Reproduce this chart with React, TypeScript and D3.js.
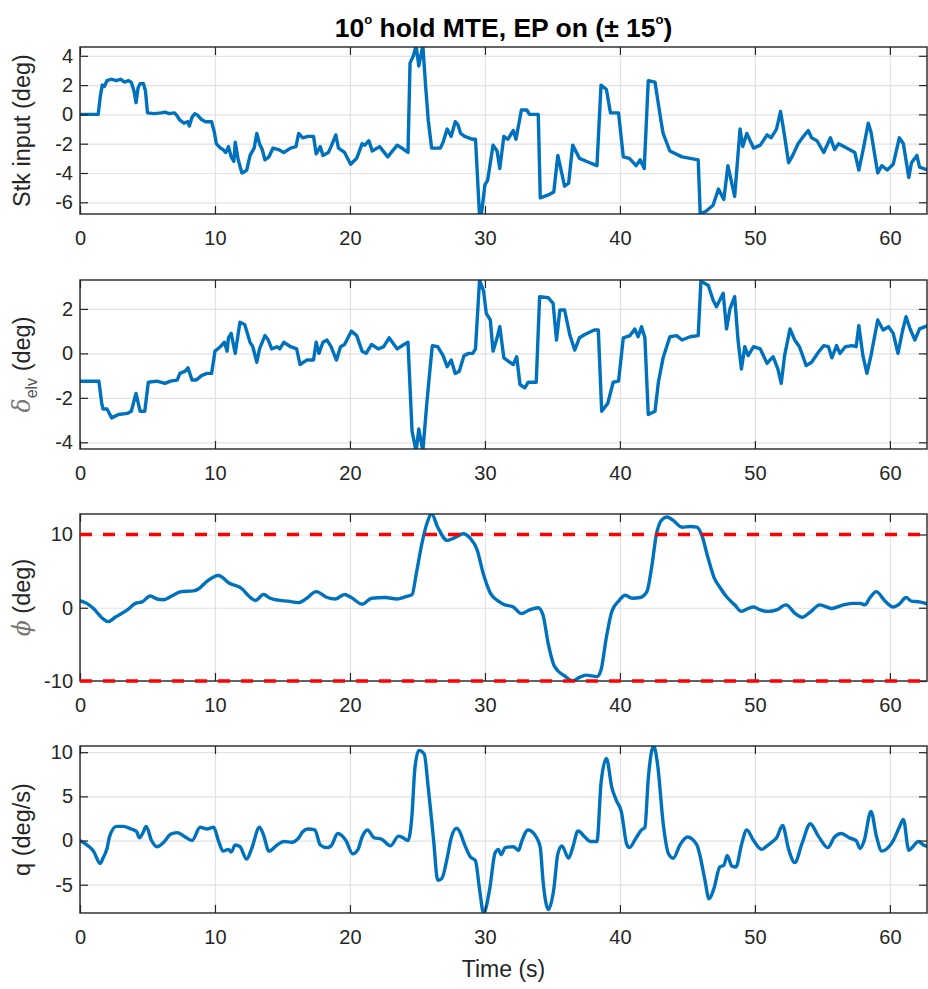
import React, { useEffect, useRef } from 'react'
import * as d3 from 'd3'

type Pt = [number, number]

// tick values
const xTicks = [0, 10, 20, 30, 40, 50, 60]
const stkTicks = [-6, -4, -2, 0, 2, 4]
const elvTicks = [-4, -2, 0, 2]
const phiTicks = [-10, 0, 10]
const qTicks = [-5, 0, 5, 10]
const phiLimits = [10, -10]

// stick input (deg) vs time (s)
const stkInput: Pt[] = [
  [0, 0], [1.35, 0], [1.5, 1.2], [1.65, 2.0], [1.8, 1.9], [2.0, 2.3], [2.3, 2.4], [2.7, 2.3], [3.0, 2.4], [3.3, 2.2],
  [3.6, 2.3], [3.8, 2.2], [4.0, 1.6], [4.15, 0.8], [4.3, 1.8], [4.45, 2.1], [4.7, 2.1], [4.85, 1.6], [5.0, 0.1], [5.5, 0.05],
  [6.0, 0.1], [6.3, 0.15], [6.6, 0.05], [7.0, 0.1], [7.2, -0.1], [7.4, -0.4], [7.7, -0.6], [8.0, -0.5], [8.1, -0.8], [8.3, -0.2],
  [8.5, 0.05], [8.7, -0.05], [9.0, -0.35], [9.3, -0.5], [9.75, -0.5], [9.95, -1.2], [10.1, -2.0], [10.4, -2.3], [10.6, -2.4], [10.8, -2.6],
  [11.0, -2.2], [11.2, -2.9], [11.4, -3.2], [11.5, -1.9], [11.7, -3.0], [11.9, -3.7], [12.0, -4.0], [12.2, -3.9], [12.35, -3.8], [12.6, -2.8],
  [12.9, -2.3], [13.1, -1.3], [13.3, -2.0], [13.5, -2.4], [13.7, -3.1], [14.0, -2.9], [14.3, -2.3], [14.7, -2.4], [15.1, -2.6], [15.6, -2.3],
  [16.0, -2.2], [16.2, -1.3], [16.5, -1.6], [16.9, -1.5], [17.3, -1.5], [17.5, -2.7], [17.8, -2.2], [18.0, -2.8], [18.4, -2.6], [18.6, -2.2],
  [18.95, -1.4], [19.15, -2.3], [19.6, -2.6], [20.05, -3.4], [20.5, -3.0], [20.9, -2.0], [21.1, -2.1], [21.4, -1.8], [21.65, -2.5], [22.2, -2.2],
  [22.8, -2.9], [23.5, -2.1], [24.0, -2.4], [24.3, -2.6], [24.45, 3.5], [24.7, 4.0], [24.9, 4.7], [25.1, 3.3], [25.4, 4.7], [25.6, 2.0],
  [25.8, -0.4], [26.05, -2.3], [26.7, -2.3], [26.9, -1.9], [27.2, -1.0], [27.5, -1.5], [27.8, -0.5], [28.0, -0.7], [28.2, -1.3], [28.5, -1.5],
  [29.1, -1.7], [29.3, -1.7], [29.6, -6.9], [29.75, -6.7], [30.0, -4.8], [30.2, -4.5], [30.6, -2.1], [30.9, -2.5], [31.1, -3.7], [31.4, -1.5],
  [31.7, -1.7], [32.1, -1.1], [32.3, -1.7], [32.7, 0.3], [33.1, 0.3], [33.3, 0.0], [33.95, 0.0], [34.1, -5.7], [34.7, -5.5], [35.1, -5.3],
  [35.4, -2.8], [35.9, -4.9], [36.2, -4.7], [36.5, -2.1], [37.0, -3.0], [37.5, -3.2], [38.3, -3.5], [38.6, 2.0], [39.0, 1.7], [39.3, 0.1],
  [39.9, 0.1], [40.25, -2.9], [40.7, -3.0], [41.2, -3.5], [41.5, -3.1], [41.8, -3.7], [42.1, 2.3], [42.6, 2.2], [43.0, -0.2], [43.2, -1.3],
  [43.7, -2.5], [44.6, -2.9], [45.2, -3.0], [45.8, -3.1], [45.95, -6.8], [46.4, -6.6], [46.9, -6.2], [47.3, -5.1], [47.7, -5.8], [48.0, -3.5],
  [48.5, -5.6], [48.9, -1.0], [49.1, -2.2], [49.4, -1.3], [49.9, -2.3], [50.4, -2.1], [50.9, -1.4], [51.2, -1.6], [51.6, -1.0], [51.9, 0.2],
  [52.1, -0.9], [52.5, -3.3], [52.8, -2.8], [53.2, -2.0], [53.6, -1.5], [53.95, -1.1], [54.2, -1.6], [54.6, -1.8], [55.1, -2.6], [55.6, -1.6],
  [55.9, -2.4], [56.2, -2.0], [56.8, -2.3], [57.4, -2.6], [57.7, -3.8], [58.0, -2.5], [58.4, -0.6], [58.6, -1.2], [59.1, -4.0], [59.4, -3.5],
  [59.8, -3.8], [60.25, -3.4], [60.7, -1.6], [61.0, -2.0], [61.4, -4.3], [61.6, -3.3], [62.0, -2.8], [62.2, -3.6], [62.8, -3.8],
]

// elevator deflection (deg)
const elvDefl: Pt[] = [
  [0, -1.25], [1.4, -1.25], [1.6, -2.2], [1.7, -2.5], [2.0, -2.5], [2.35, -2.9], [2.85, -2.75], [3.5, -2.7], [3.8, -2.6], [4.15, -1.8],
  [4.45, -2.6], [4.8, -2.6], [5.06, -1.3], [5.7, -1.25], [6.3, -1.35], [6.7, -1.25], [7.2, -1.2], [7.4, -0.9], [7.8, -0.8], [8.0, -0.65],
  [8.3, -1.2], [8.6, -1.2], [9.0, -1.0], [9.4, -0.9], [9.75, -0.9], [10.0, 0.1], [10.4, 0.3], [10.7, 0.5], [10.9, 0.1], [11.0, 0.7],
  [11.2, 0.9], [11.5, 0.0], [11.85, 1.4], [12.2, 1.3], [12.6, 0.5], [12.8, 0.3], [13.1, -0.4], [13.3, 0.2], [13.7, 0.8], [13.95, 0.6],
  [14.2, 0.2], [14.6, 0.3], [14.8, 0.2], [15.1, 0.5], [15.6, 0.3], [16.05, 0.2], [16.3, -0.5], [16.8, -0.3], [17.3, -0.3], [17.5, 0.5],
  [17.7, 0.0], [18.0, 0.5], [18.3, 0.6], [18.6, 0.3], [19.0, -0.3], [19.3, 0.3], [19.6, 0.4], [20.1, 1.0], [20.5, 0.8], [20.9, 0.1],
  [21.2, 0.0], [21.6, 0.4], [22.1, 0.2], [22.5, 0.3], [22.9, 0.7], [23.5, 0.2], [24.0, 0.4], [24.3, 0.5], [24.6, -3.5], [24.9, -4.4],
  [25.1, -3.4], [25.4, -4.4], [25.7, -2.2], [25.9, -0.9], [26.1, 0.35], [26.5, 0.3], [26.9, -0.1], [27.2, -0.6], [27.5, -0.3], [27.8, -0.9],
  [28.1, -0.8], [28.45, -0.1], [28.8, 0.0], [29.1, 0.0], [29.3, 0.2], [29.6, 3.3], [29.9, 2.8], [30.1, 1.8], [30.4, 1.5], [30.6, 0.1],
  [30.9, 0.7], [31.1, 1.2], [31.4, -0.2], [31.85, -0.4], [32.1, -0.5], [32.35, -0.15], [32.6, -1.4], [32.95, -1.55], [33.2, -1.3], [33.8, -1.3],
  [34.05, 2.55], [34.7, 2.5], [35.05, 2.25], [35.3, 0.6], [35.55, 1.95], [35.9, 1.95], [36.3, 0.8], [36.65, 0.15], [37.0, 0.7], [37.4, 0.85],
  [38.1, 1.05], [38.4, 1.05], [38.65, -2.6], [39.1, -2.25], [39.5, -1.3], [39.9, -1.25], [40.25, 0.7], [40.75, 0.8], [41.1, 1.1], [41.35, 0.75],
  [41.6, 1.2], [41.85, 0.7], [42.1, -2.75], [42.6, -2.6], [42.85, -1.3], [43.2, -0.2], [43.7, 0.75], [44.2, 0.8], [44.6, 0.6], [45.2, 0.75],
  [45.8, 0.8], [46.0, 3.25], [46.55, 3.05], [46.9, 2.4], [47.15, 2.1], [47.65, 2.7], [47.9, 1.1], [48.15, 2.0], [48.5, 2.55], [48.75, 0.6],
  [49.0, -0.7], [49.25, 0.3], [49.5, -0.1], [49.9, 0.3], [50.4, 0.2], [50.9, -0.45], [51.35, -0.15], [51.7, -0.7], [51.95, -1.35], [52.2, -0.1],
  [52.6, 1.1], [52.95, 0.6], [53.3, 0.3], [53.8, -0.55], [54.2, -0.4], [54.7, 0.05], [55.1, 0.35], [55.45, 0.3], [55.7, -0.2], [56.05, 0.35],
  [56.3, 0.0], [56.7, 0.3], [57.2, 0.35], [57.5, 0.3], [57.7, 1.25], [58.0, -0.1], [58.3, -0.9], [58.6, -0.1], [59.1, 1.5], [59.5, 1.05],
  [59.9, 1.2], [60.25, 0.9], [60.6, 0.0], [60.95, 1.05], [61.2, 1.65], [61.5, 1.1], [61.85, 0.6], [62.2, 1.1], [62.8, 1.25],
]

// bank angle phi (deg)
const phiAngle: Pt[] = [
  [0, 0.96], [0.5, 0.6], [1.0, -0.1], [1.7, -1.5], [2.1, -1.9], [2.6, -1.3], [3.5, -0.3], [4.1, 0.6], [4.6, 0.8], [5.2, 1.6],
  [5.7, 1.2], [6.2, 1.1], [6.8, 1.6], [7.5, 2.2], [8.4, 2.3], [8.8, 2.6], [9.4, 3.6], [10.25, 4.4], [11.1, 3.3], [12.0, 2.6],
  [12.5, 1.6], [13.0, 1.0], [13.6, 1.8], [14.1, 1.3], [14.8, 1.0], [15.4, 0.9], [16.2, 0.7], [16.8, 1.3], [17.5, 2.2], [18.3, 1.4],
  [18.9, 1.2], [19.6, 1.8], [20.1, 1.4], [20.9, 0.5], [21.6, 1.3], [22.6, 1.4], [23.5, 1.2], [24.1, 1.5], [24.6, 1.8], [24.9, 4.5],
  [25.3, 8.5], [25.7, 11.5], [26.05, 12.8], [26.5, 11.0], [27.2, 9.2], [27.8, 9.6], [28.4, 10.1], [28.9, 9.5], [29.4, 8.0], [29.9, 4.5],
  [30.4, 2.0], [31.0, 0.9], [31.4, 0.45], [32.1, 0.1], [32.7, -0.8], [33.3, -0.3], [33.95, 0.0], [34.3, -1.0], [34.7, -5.0], [35.1, -7.8],
  [35.4, -8.6], [35.9, -9.3], [36.5, -10.0], [37.0, -9.5], [37.5, -9.2], [38.3, -9.4], [38.6, -8.5], [39.0, -4.0], [39.4, -0.5], [39.9, 0.9],
  [40.4, 1.7], [40.9, 1.3], [41.5, 1.4], [42.0, 2.2], [42.35, 5.5], [42.7, 10.0], [43.1, 12.0], [43.5, 12.4], [43.9, 12.0], [44.6, 11.0],
  [45.2, 11.1], [45.7, 11.0], [46.05, 10.0], [46.5, 7.0], [47.0, 4.0], [47.4, 2.8], [47.9, 1.5], [48.5, 0.4], [49.0, -0.5], [49.5, -0.1],
  [49.9, 0.1], [50.4, -0.3], [51.0, -0.5], [51.6, -0.3], [52.3, 0.4], [53.0, -0.8], [53.5, -1.3], [54.1, -0.6], [54.8, 0.4], [55.7, -0.1],
  [56.4, 0.3], [57.2, 0.6], [57.8, 0.6], [58.15, 0.4], [58.5, 1.3], [59.0, 2.2], [59.6, 1.0], [60.25, 0.1], [60.7, 0.5], [61.2, 1.4],
  [61.6, 0.9], [62.2, 0.8], [62.8, 0.5],
]

// pitch rate q (deg/s)
const pitchRate: Pt[] = [
  [0, 0], [0.6, -0.6], [1.0, -1.2], [1.5, -2.6], [1.7, -2.0], [2.0, -0.9], [2.2, 0.5], [2.7, 1.6], [3.2, 1.6], [3.8, 1.3],
  [4.2, 1.0], [4.4, 0.3], [4.7, 1.0], [4.9, 1.6], [5.3, 0.0], [5.7, -0.7], [6.2, -0.2], [6.7, 0.7], [7.2, 0.9], [7.7, 0.5],
  [8.3, 0.0], [8.9, 1.5], [9.4, 1.3], [9.9, 1.5], [10.25, 0.0], [10.6, -1.2], [11.0, -1.0], [11.2, -1.3], [11.5, -0.5], [11.85, -0.7],
  [12.35, -2.1], [12.7, -1.0], [13.3, 1.5], [13.6, 0.6], [14.0, -1.2], [14.6, -0.5], [15.1, -0.1], [15.7, -0.2], [16.2, 0.3], [16.5, 1.0],
  [16.9, 1.3], [17.4, 1.2], [17.8, -0.5], [18.3, -0.8], [18.6, -0.6], [19.1, 0.8], [19.7, 0.0], [20.2, -1.5], [20.6, -1.0], [20.9, 0.4],
  [21.3, 1.2], [21.8, 0.3], [22.3, 0.2], [23.0, -0.6], [23.6, 0.5], [23.95, 0.3], [24.3, 0.0], [24.6, 3.0], [24.8, 8.0], [25.1, 10.2],
  [25.5, 9.8], [25.8, 6.0], [26.2, 0.0], [26.5, -4.5], [26.8, -4.3], [27.2, -2.0], [27.5, 0.3], [27.9, 1.4], [28.1, 1.1], [28.5, -0.5],
  [28.9, -1.8], [29.3, -2.3], [29.6, -5.5], [29.9, -8.2], [30.35, -5.5], [30.75, -1.4], [31.0, -1.0], [31.2, -1.6], [31.5, -0.8], [32.1, -0.7],
  [32.5, -1.1], [32.7, -0.2], [33.2, 1.2], [33.8, 0.4], [34.1, -0.8], [34.3, -4.5], [34.7, -7.8], [35.1, -5.5], [35.4, -1.5], [35.7, -0.6],
  [36.2, -2.0], [36.5, -0.8], [36.9, 1.1], [37.4, 0.4], [37.8, -0.1], [38.3, -0.1], [38.6, 6.5], [39.0, 9.3], [39.4, 6.0], [39.75, 4.5],
  [40.1, 3.3], [40.5, -0.4], [40.7, -0.8], [41.2, 0.3], [41.6, 1.2], [41.85, 1.5], [42.1, 7.0], [42.5, 10.7], [42.8, 8.5], [43.2, 2.0],
  [43.6, -1.5], [43.95, -2.0], [44.45, -0.5], [45.0, 0.4], [45.7, -0.5], [45.9, -1.5], [46.3, -4.5], [46.6, -6.6], [46.95, -5.5], [47.4, -3.0],
  [47.7, -2.8], [47.95, -1.7], [48.3, -2.9], [48.6, -3.0], [49.0, -0.5], [49.4, 1.2], [49.9, 0.0], [50.5, -1.0], [50.9, -0.6], [51.4, 0.0],
  [51.6, 0.3], [52.05, 1.7], [52.5, -1.0], [52.95, -2.5], [53.5, -0.3], [54.1, 1.9], [54.7, 0.5], [55.4, -0.8], [55.9, 0.4], [56.4, 0.8],
  [57.0, 0.3], [57.5, 0.0], [57.8, -0.9], [58.1, 0.0], [58.6, 3.3], [59.0, 0.5], [59.4, -1.2], [59.8, -0.9], [60.25, 0.0], [60.7, 1.5],
  [61.0, 2.4], [61.4, -1.1], [61.7, -0.7], [62.1, -0.1], [62.5, -0.5], [62.8, -0.7],
]

const W = 928, H = 989
const left = 80, right = 927
const xMax = 62.75
const FONT = '"Liberation Sans", Arial, Helvetica, sans-serif'
const BLUE = '#0072BD'
const AX = '#262626'

const panels = [
  { data: stkInput, ticks: stkTicks, domain: [-6.8, 4.6], top: 47, bottom: 214, smooth: false },
  { data: elvDefl, ticks: elvTicks, domain: [-4.3, 3.3], top: 280, bottom: 449, smooth: false },
  { data: phiAngle, ticks: phiTicks, domain: [-10, 12.8], top: 514, bottom: 681, smooth: true, limits: phiLimits },
  { data: pitchRate, ticks: qTicks, domain: [-8.2, 10.7], top: 746, bottom: 913, smooth: true },
]

export default function App() {
  const ref = useRef<SVGGElement>(null)

  useEffect(() => {
    const root = d3.select(ref.current)
    root.selectAll('*').remove()
    const x = d3.scaleLinear().domain([0, xMax]).range([left, right])
    const fmt = (d: any) => String(d)

    panels.forEach((p, i) => {
      const y = d3.scaleLinear().domain(p.domain).range([p.bottom, p.top])
      const h = p.bottom - p.top
      const g = root.append('g')

      // grid
      g.append('g')
        .attr('transform', `translate(0,${p.bottom})`)
        .call(d3.axisBottom(x).tickValues(xTicks).tickSize(-h).tickFormat(() => ''))
        .call(s => s.select('.domain').remove())
        .call(s => s.selectAll('line').attr('stroke', '#e2e2e2').attr('stroke-width', 1.2))
      g.append('g')
        .attr('transform', `translate(${left},0)`)
        .call(d3.axisLeft(y).tickValues(p.ticks).tickSize(-(right - left)).tickFormat(() => ''))
        .call(s => s.select('.domain').remove())
        .call(s => s.selectAll('line').attr('stroke', '#e2e2e2').attr('stroke-width', 1.2))

      const clipId = `clip-${i}`
      root.append('clipPath').attr('id', clipId)
        .append('rect').attr('x', left).attr('y', p.top).attr('width', right - left).attr('height', h)

      const line = d3.line<Pt>()
        .x(d => x(d[0]))
        .y(d => y(d[1]))
        .curve(p.smooth ? d3.curveMonotoneX : d3.curveLinear)

      g.append('path')
        .datum(p.data)
        .attr('clip-path', `url(#${clipId})`)
        .attr('fill', 'none')
        .attr('stroke', BLUE)
        .attr('stroke-width', 3.4)
        .attr('stroke-linejoin', 'round')
        .attr('d', line)

      // axes, ticks pointing inward like matlab
      const styleAxis = (s: any) => {
        s.select('.domain').remove()
        s.selectAll('line').attr('stroke', AX).attr('stroke-width', 1.2)
        s.selectAll('text').attr('fill', AX).attr('font-size', 20).attr('font-family', FONT)
      }
      g.append('g').attr('transform', `translate(0,${p.bottom})`)
        .call(d3.axisBottom(x).tickValues(xTicks).tickSizeInner(-8).tickSizeOuter(0).tickPadding(17).tickFormat(fmt))
        .call(styleAxis)
      g.append('g').attr('transform', `translate(0,${p.top})`)
        .call(d3.axisTop(x).tickValues(xTicks).tickSizeInner(-8).tickSizeOuter(0).tickFormat(() => ''))
        .call(styleAxis)
      g.append('g').attr('transform', `translate(${left},0)`)
        .call(d3.axisLeft(y).tickValues(p.ticks).tickSizeInner(-8).tickSizeOuter(0).tickPadding(7).tickFormat(fmt))
        .call(styleAxis)
      g.append('g').attr('transform', `translate(${right},0)`)
        .call(d3.axisRight(y).tickValues(p.ticks).tickSizeInner(-8).tickSizeOuter(0).tickFormat(() => ''))
        .call(styleAxis)

      g.append('rect')
        .attr('x', left).attr('y', p.top).attr('width', right - left).attr('height', h)
        .attr('fill', 'none').attr('stroke', AX).attr('stroke-width', 1.4)

      if (p.limits) {
        g.selectAll('line.limit')
          .data(p.limits)
          .join('line')
          .attr('class', 'limit')
          .attr('x1', left).attr('x2', right)
          .attr('y1', d => y(d)).attr('y2', d => y(d))
          .attr('stroke', '#ff0000')
          .attr('stroke-width', 3.6)
          .attr('stroke-dasharray', '12 11')
      }
    })
  }, [])

  const yl = (cy: number) => `translate(30,${cy}) rotate(-90)`
  const mid = (left + right) / 2

  return (
    <svg width={W} height={H}
      style={{ position: 'absolute', left: 0, top: 0, background: '#fff' }}
      fontFamily={FONT}>
      <g ref={ref} />
      <text x={mid} y={37} textAnchor="middle" fontSize={26.5} fontWeight="bold" fill="#000">
        10<tspan fontSize={13} dy={-13}>o</tspan>
        <tspan dy={13}> hold MTE, EP on (± 15</tspan>
        <tspan fontSize={13} dy={-13}>o</tspan>
        <tspan dy={13}>)</tspan>
      </text>
      <text transform={yl(130.5)} textAnchor="middle" fontSize={23.5} fill={AX}>Stk input (deg)</text>
      <text transform={yl(364.5)} textAnchor="middle" fontSize={23.5} fill={AX}>
        <tspan fontStyle="italic" fill="#777" fontFamily="DejaVu Serif">δ</tspan>
        <tspan fontSize={16} dy={7} fill="#555">elv</tspan>
        <tspan dy={-7}>  (deg)</tspan>
      </text>
      <text transform={yl(597.5)} textAnchor="middle" fontSize={23.5} fill={AX}>
        <tspan fontStyle="italic" fill="#777" fontFamily="DejaVu Serif">ϕ</tspan> (deg)
      </text>
      <text transform={yl(829.5)} textAnchor="middle" fontSize={23.5} fill={AX}>q (deg/s)</text>
      <text x={mid} y={977} textAnchor="middle" fontSize={23} fill={AX}>Time (s)</text>
    </svg>
  )
}
